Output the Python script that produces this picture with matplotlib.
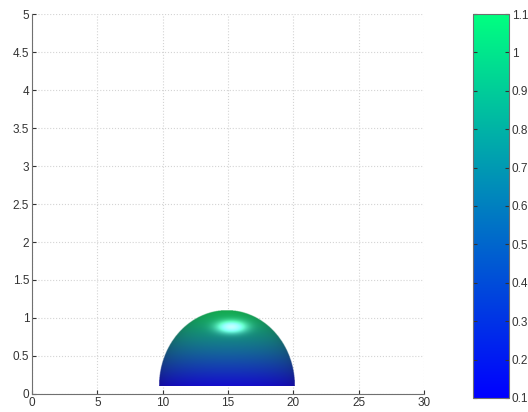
import numpy as np
import matplotlib
matplotlib.use("Agg")
import matplotlib.pyplot as plt
from matplotlib.colors import Normalize

plt.rcParams["font.family"] = ["Liberation Sans", "DejaVu Sans"]

# dome (axis units)
DOME_CENTER = 14.95
DOME_HALF_WIDTH = 5.2
DOME_BASE = 0.1
DOME_TOP = 1.1
HIGHLIGHT_XY = (15.3, 0.88)

CLIM = (0.1, 1.1)
X_TICKS = [0, 5, 10, 15, 20, 25, 30]
Y_TICKS = [0, 0.5, 1, 1.5, 2, 2.5, 3, 3.5, 4, 4.5, 5]
CBAR_TICKS = [0.1, 0.2, 0.3, 0.4, 0.5, 0.6, 0.7, 0.8, 0.9, 1, 1.1]


def dome_image(nx=600, ny=240):
    x0, x1 = DOME_CENTER - DOME_HALF_WIDTH, DOME_CENTER + DOME_HALF_WIDTH
    xs = np.linspace(x0, x1, nx)
    ys = np.linspace(DOME_BASE, DOME_TOP, ny)
    X, Y = np.meshgrid(xs, ys)
    u = (X - DOME_CENTER) / DOME_HALF_WIDTH
    v = (Y - DOME_BASE) / (DOME_TOP - DOME_BASE)
    r2 = u ** 2 + v ** 2
    inside = r2 <= 1.0
    w = np.sqrt(np.clip(1 - r2, 0, 1))

    cmap = plt.get_cmap("winter")
    rgb = cmap(Normalize(*CLIM)(Y))[..., :3]

    # fake lighting: a bit darker towards the rim, bright spot near the top
    shade = 0.58 + 0.22 * w
    hx = (X - HIGHLIGHT_XY[0]) / 1.1
    hy = (Y - HIGHLIGHT_XY[1]) / 0.08
    spec = 0.8 * np.exp(-(hx ** 2 + hy ** 2))
    img = rgb * shade[..., None] + np.array([0.08, 0.05, 0.0])
    img = img + spec[..., None] * np.array([0.85, 1.0, 1.0])
    img = np.clip(img, 0, 1)
    alpha = inside.astype(float)
    rgba = np.dstack([img, alpha])
    return rgba, (x0, x1, DOME_BASE, DOME_TOP)


fig = plt.figure(figsize=(5.28, 4.12), dpi=100)
ax = fig.add_axes([0.0606, 0.0437, 0.7424, 0.9223])

rgba, extent = dome_image()
ax.imshow(rgba, extent=extent, origin="lower", aspect="auto",
          interpolation="bilinear", zorder=2)

ax.set_xlim(0, 30)
ax.set_ylim(0, 5)
ax.set_xticks(X_TICKS)
ax.set_yticks(Y_TICKS)
ax.set_yticklabels([f"{t:g}" for t in Y_TICKS])
ax.grid(True, linestyle=":", color="#d4d4d4", linewidth=0.8, zorder=0)
ax.set_axisbelow(True)
for side in ("top", "right"):
    ax.spines[side].set_visible(False)
for side in ("left", "bottom"):
    ax.spines[side].set_color("#707070")
ax.tick_params(direction="in", length=3, labelsize=8.5, colors="#333333",
               pad=2)

cax = fig.add_axes([0.896, 0.034, 0.068, 0.932])
sm = plt.cm.ScalarMappable(cmap="winter", norm=Normalize(*CLIM))
cb = fig.colorbar(sm, cax=cax, ticks=CBAR_TICKS)
cb.ax.set_yticklabels([f"{t:g}" for t in CBAR_TICKS])
cb.ax.tick_params(direction="in", length=3, labelsize=8.5, colors="#333333",
                  pad=2, left=True)
cb.outline.set_edgecolor("#707070")

fig.savefig("out.png", dpi=100)
